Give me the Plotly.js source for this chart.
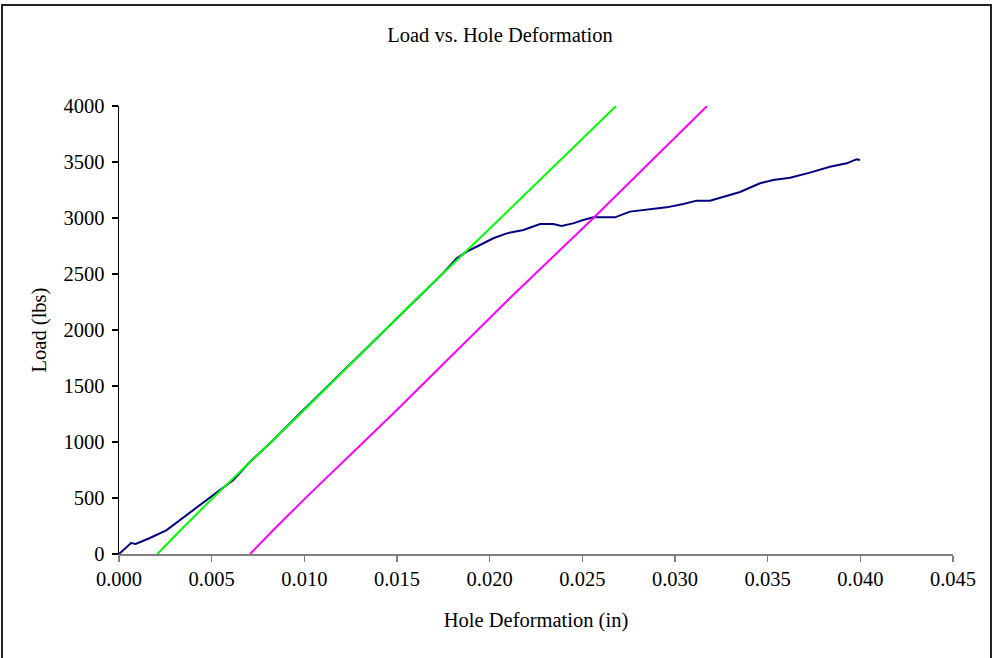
<!DOCTYPE html>
<html>
<head>
<meta charset="utf-8">
<script src="https://cdn.plot.ly/plotly-3.0.1.min.js"></script>
<style>
  html, body { margin: 0; padding: 0; background: #fff; }
  #wrap { position: relative; width: 996px; height: 658px; overflow: hidden; }
  #chart { width: 996px; height: 658px; }
  #frame {
    position: absolute; left: 1px; top: 4px; width: 991px; height: 700px;
    box-sizing: border-box; border: 2px solid #222; pointer-events: none;
  }
</style>
</head>
<body>
<div id="wrap">
  <div id="chart"></div>
  <div id="frame"></div>
</div>
<script>
// Measured load vs. hole deformation
const testDeformation = [0, 0.00065, 0.0009, 0.00167, 0.00257, 0.0033, 0.00437, 0.005, 0.00617, 0.00707,
  0.00833, 0.00977, 0.011, 0.0125, 0.014, 0.015, 0.016, 0.0175, 0.01822, 0.01876, 0.01948, 0.0202,
  0.02092, 0.02182, 0.02272, 0.02343, 0.02388, 0.0245, 0.02505, 0.02559, 0.02595, 0.02676, 0.02757,
  0.02865, 0.02955, 0.03045, 0.03117, 0.03189, 0.03261, 0.03351, 0.03459, 0.0353, 0.03621, 0.03728,
  0.03836, 0.03927, 0.03962, 0.0398, 0.03998];
const testLoad = [0, 98, 90, 143, 214, 304, 437, 512, 661, 824,
  1018, 1256, 1455, 1700, 1940, 2100, 2262, 2510, 2640, 2699, 2759, 2819,
  2863, 2893, 2946, 2946, 2929, 2952, 2982, 3006, 3006, 3006, 3057,
  3080, 3095, 3125, 3155, 3155, 3190, 3232, 3310, 3339, 3360, 3405,
  3458, 3488, 3512, 3524, 3518];

// Linear (elastic) fit line
const fitDeformation = [0.00207, 0.0033, 0.005, 0.00977, 0.016, 0.0205, 0.02682];
const fitLoad = [0, 210, 490, 1250, 2270, 2985, 4000];

// Fit line offset along the deformation axis
const offsetDeformation = [0.00707, 0.0083, 0.010, 0.01477, 0.021, 0.0255, 0.03173];
const offsetLoad = [0, 210, 490, 1250, 2270, 2985, 4000];

const xTicks = [0, 0.005, 0.01, 0.015, 0.02, 0.025, 0.03, 0.035, 0.04, 0.045];
const yTicks = [0, 500, 1000, 1500, 2000, 2500, 3000, 3500, 4000];

const serif = '"Liberation Serif", "Times New Roman", serif';
const fs = 20.5;

const traces = [
  { x: testDeformation, y: testLoad, mode: 'lines', line: { color: '#000080', width: 2 } },
  { x: fitDeformation, y: fitLoad, mode: 'lines', line: { color: '#00ff00', width: 2 } },
  { x: offsetDeformation, y: offsetLoad, mode: 'lines', line: { color: '#ff00ff', width: 2 } }
];

const layout = {
  width: 996, height: 658,
  margin: { l: 119, r: 43, t: 106, b: 104 },
  paper_bgcolor: '#ffffff', plot_bgcolor: '#ffffff',
  showlegend: false,
  font: { family: serif, size: fs, color: '#000' },
  title: {
    text: 'Load vs. Hole Deformation',
    font: { family: serif, size: fs, color: '#000' },
    xref: 'container', yref: 'container', x: 0.502, y: 1 - 35 / 658,
    xanchor: 'center', yanchor: 'middle'
  },
  xaxis: {
    range: [0, 0.045], tickvals: xTicks, ticktext: xTicks.map(v => v.toFixed(3)),
    showgrid: false, zeroline: false, showline: true, linecolor: '#808080', linewidth: 1.5,
    ticks: 'outside', ticklen: 6, tickcolor: '#808080', tickwidth: 1.5,
    tickfont: { family: serif, size: fs },
    title: { text: 'Hole Deformation (in)', font: { family: serif, size: fs }, standoff: 23 },
    automargin: false
  },
  yaxis: {
    range: [0, 4000], tickvals: yTicks, ticktext: yTicks.map(String),
    showgrid: false, zeroline: false, showline: true, linecolor: '#000', linewidth: 1.5,
    ticks: 'outside', ticklen: 6, tickcolor: '#000', tickwidth: 1.5,
    ticklabelstandoff: 3,
    tickfont: { family: serif, size: fs },
    title: { text: 'Load (lbs)', font: { family: serif, size: fs }, standoff: 11 },
    automargin: false
  }
};

Plotly.newPlot('chart', traces, layout, { staticPlot: true, displayModeBar: false });
</script>
</body>
</html>
